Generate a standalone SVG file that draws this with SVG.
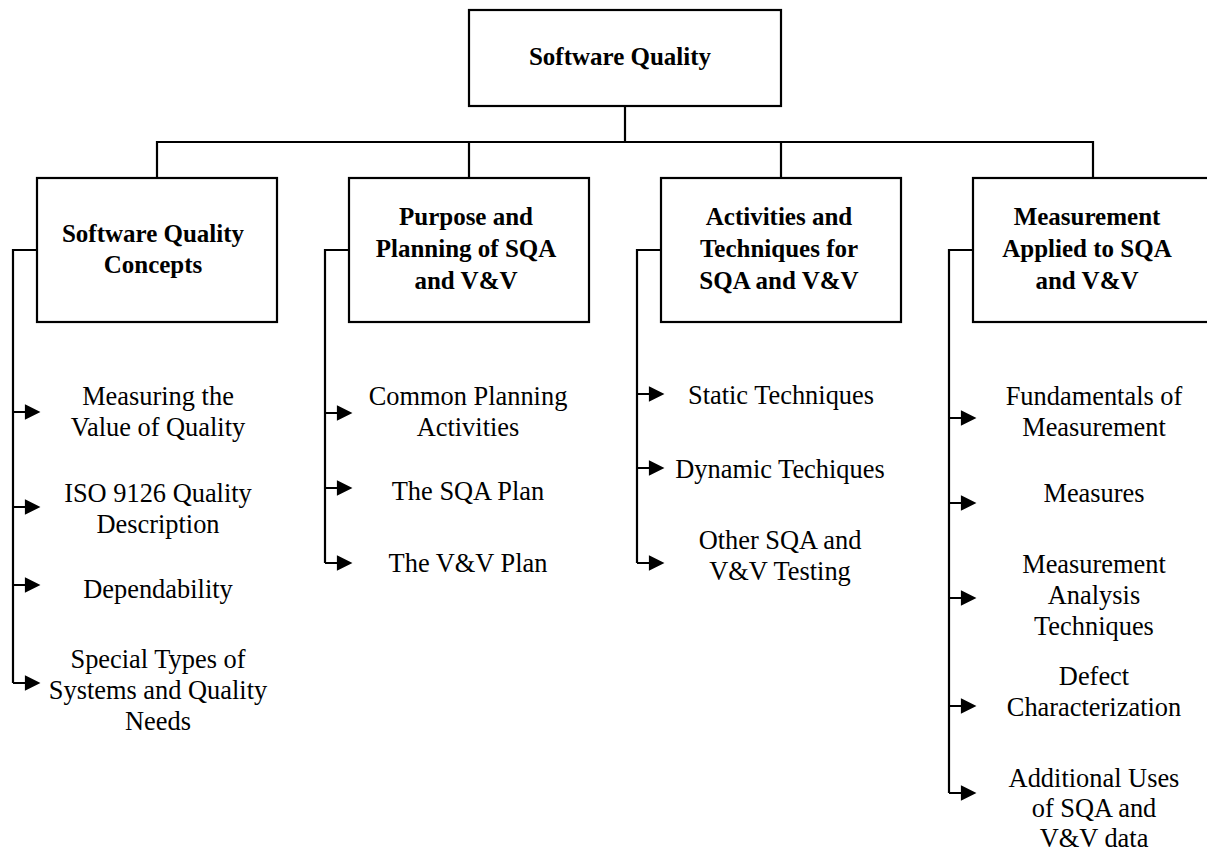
<svg xmlns="http://www.w3.org/2000/svg" width="1207" height="859" viewBox="0 0 1207 859">
<style>
.box{fill:#fff;stroke:#000;stroke-width:2.2}
.ln{fill:none;stroke:#000;stroke-width:2.2}
.hd{font-family:"Liberation Serif","Times New Roman",serif;font-weight:bold;font-size:25px;fill:#000;text-anchor:middle}
.it{font-family:"Liberation Serif","Times New Roman",serif;font-size:26.4px;fill:#000;text-anchor:middle}
</style>
<defs>
<path id="ah" d="M0,0 H14 M13,-6 L25,0 L13,6 Z" stroke="#000" stroke-width="2.2" fill="#000"/>
</defs>
<rect width="1207" height="859" fill="#fff"/>
<g id="connectors">
<path class="ln" d="M625,106 V142 M157,178 V142 H1093 V178 M469,142 V178 M781,142 V178"/>
<path class="ln" d="M37,250 H13 V683 M349,250 H325 V563 M661,250 H637 V563 M973,250 H949 V793"/>
<use href="#ah" x="13" y="412"/>
<use href="#ah" x="13" y="507"/>
<use href="#ah" x="13" y="585"/>
<use href="#ah" x="13" y="683"/>
<use href="#ah" x="325" y="413"/>
<use href="#ah" x="325" y="488"/>
<use href="#ah" x="325" y="563"/>
<use href="#ah" x="637" y="394"/>
<use href="#ah" x="637" y="468"/>
<use href="#ah" x="637" y="563"/>
<use href="#ah" x="949" y="418"/>
<use href="#ah" x="949" y="503"/>
<use href="#ah" x="949" y="598"/>
<use href="#ah" x="949" y="706"/>
<use href="#ah" x="949" y="793"/>
</g>
<g id="root">
<rect class="box" x="469" y="10" width="312" height="96"/>
<text class="hd" x="620" y="65">Software Quality</text>
</g>
<g id="concepts">
<rect class="box" x="37" y="178" width="240" height="144"/>
<text class="hd" x="153" y="242">Software Quality</text>
<text class="hd" x="153" y="273">Concepts</text>
</g>
<g id="planning">
<rect class="box" x="349" y="178" width="240" height="144"/>
<text class="hd" x="466" y="225">Purpose and</text>
<text class="hd" x="466" y="257">Planning of SQA</text>
<text class="hd" x="466" y="289">and V&amp;V</text>
</g>
<g id="activities">
<rect class="box" x="661" y="178" width="240" height="144"/>
<text class="hd" x="779" y="225">Activities and</text>
<text class="hd" x="779" y="257">Techniques for</text>
<text class="hd" x="779" y="289">SQA and V&amp;V</text>
</g>
<g id="measurement">
<rect class="box" x="973" y="178" width="250" height="144"/>
<text class="hd" x="1087" y="225">Measurement</text>
<text class="hd" x="1087" y="257">Applied to SQA</text>
<text class="hd" x="1087" y="289">and V&amp;V</text>
</g>
<g id="c1-value"><text class="it" x="158" y="405">Measuring the</text><text class="it" x="158" y="436">Value of Quality</text></g>
<g id="c1-iso"><text class="it" x="158" y="502">ISO 9126 Quality</text><text class="it" x="158" y="533">Description</text></g>
<g id="c1-dep"><text class="it" x="158" y="598">Dependability</text></g>
<g id="c1-special"><text class="it" x="158" y="668">Special Types of</text><text class="it" x="158" y="699">Systems and Quality</text><text class="it" x="158" y="730">Needs</text></g>
<g id="c2-common"><text class="it" x="468" y="405">Common Planning</text><text class="it" x="468" y="436">Activities</text></g>
<g id="c2-sqa"><text class="it" x="468" y="500">The SQA Plan</text></g>
<g id="c2-vv"><text class="it" x="468" y="572">The V&amp;V Plan</text></g>
<g id="c3-static"><text class="it" x="781" y="404">Static Techniques</text></g>
<g id="c3-dynamic"><text class="it" x="780" y="478">Dynamic Techiques</text></g>
<g id="c3-other"><text class="it" x="780" y="549">Other SQA and</text><text class="it" x="780" y="580">V&amp;V Testing</text></g>
<g id="c4-fund"><text class="it" x="1094" y="405">Fundamentals of</text><text class="it" x="1094" y="436">Measurement</text></g>
<g id="c4-measures"><text class="it" x="1094" y="502">Measures</text></g>
<g id="c4-analysis"><text class="it" x="1094" y="573">Measurement</text><text class="it" x="1094" y="604">Analysis</text><text class="it" x="1094" y="635">Techniques</text></g>
<g id="c4-defect"><text class="it" x="1094" y="685">Defect</text><text class="it" x="1094" y="716">Characterization</text></g>
<g id="c4-additional"><text class="it" x="1094" y="787">Additional Uses</text><text class="it" x="1094" y="817">of SQA and</text><text class="it" x="1094" y="847">V&amp;V data</text></g>
</svg>
